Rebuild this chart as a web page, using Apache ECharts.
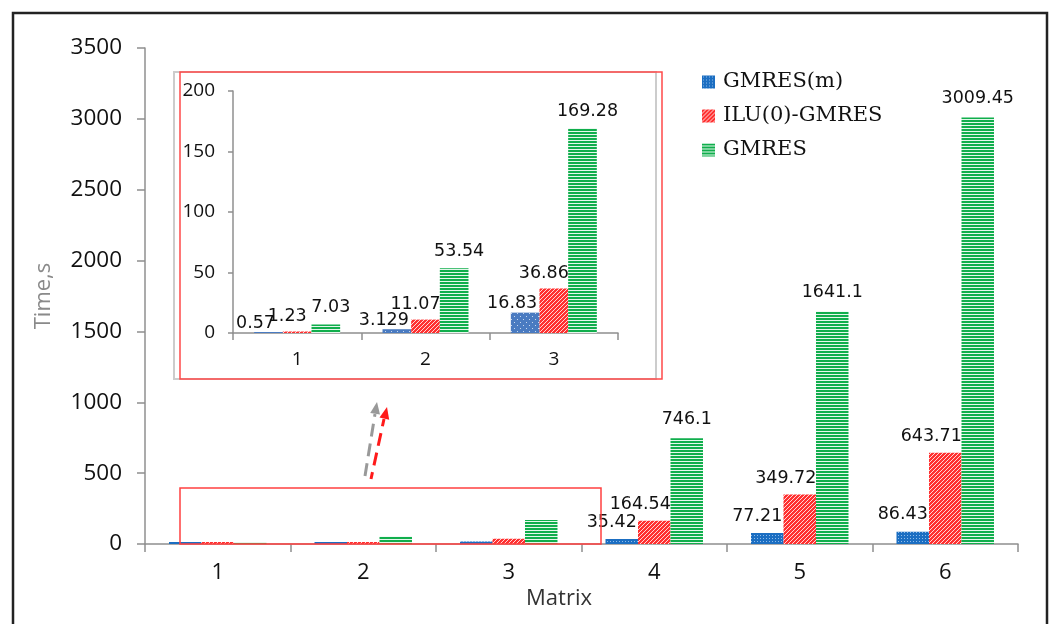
<!DOCTYPE html>
<html>
<head>
<meta charset="utf-8">
<script src="https://cdn.jsdelivr.net/npm/echarts@6/dist/echarts.min.js"></script>
<style>
html,body{margin:0;padding:0;background:#fff;}
#c{width:1054px;height:624px;}
</style>
</head>
<body>
<div id="c"></div>
<script>
// ---- data ----
const categories = ['1', '2', '3', '4', '5', '6'];
const insetCategories = ['1', '2', '3'];
const seriesNames = ['GMRES(m)', 'ILU(0)-GMRES', 'GMRES'];
const gmresM = [0.57, 3.129, 16.83, 35.42, 77.21, 86.43];
const iluGmres = [1.23, 11.07, 36.86, 164.54, 349.72, 643.71];
const gmres = [7.03, 53.54, 169.28, 746.1, 1641.1, 3009.45];
const mainTicks = { min: 0, max: 3500, interval: 500 };
const insetTicks = { min: 0, max: 200, interval: 50 };

// ---- patterns ----
function pattern(w, h, draw) {
  const c = document.createElement('canvas');
  c.width = w; c.height = h;
  const ctx = c.getContext('2d');
  draw(ctx);
  return { image: c, repeat: 'repeat' };
}
const bluePatMain = pattern(3, 3, ctx => {
  ctx.fillStyle = '#1b6ec2'; ctx.fillRect(0, 0, 3, 3);
  ctx.fillStyle = '#8fbbe8'; ctx.fillRect(1, 1, 1, 1);
});
const bluePatInset = pattern(6, 6, ctx => {
  ctx.fillStyle = '#4a7bc1'; ctx.fillRect(0, 0, 6, 6);
  ctx.fillStyle = '#c9d8ee'; ctx.fillRect(1, 1, 1, 1); ctx.fillRect(4, 4, 1, 1);
});
const redPat = pattern(4, 4, ctx => {
  for (let x = 0; x < 4; x++) for (let y = 0; y < 4; y++) {
    ctx.fillStyle = ((x + y) % 4 < 3) ? '#ff3030' : '#ffd6d6';
    ctx.fillRect(x, y, 1, 1);
  }
});
const greenPat = pattern(1, 3, ctx => {
  ctx.fillStyle = '#10ae4c'; ctx.fillRect(0, 0, 1, 2);
  ctx.fillStyle = '#e6f7ec'; ctx.fillRect(0, 2, 1, 1);
});

const mainColors = [bluePatMain, redPat, greenPat];
const insetColors = [bluePatInset, redPat, greenPat];
const mainOffsets = [[-10, 0], [-14, 0], [0, 0]];
const mainDistances = [8, 7, 10];
const insetOffsets = [[-13, 0], [-10, 0], [5, 0]];
const insetDistances = [0, 6, 8];
const valueSets = [gmresM, iluGmres, gmres];

const axisGray = '#8f8f8f';
const labelFont = 'DejaVu Sans';
const tickFont = 'Open Sans';
const plain = v => String(v);

const series = [];
valueSets.forEach((vals, i) => {
  series.push({
    name: seriesNames[i], type: 'bar', xAxisIndex: 0, yAxisIndex: 0,
    data: vals, barGap: '0%', barCategoryGap: '33%', barMinHeight: 2,
    itemStyle: { color: mainColors[i] },
    label: {
      show: true, position: 'top', distance: mainDistances[i], offset: mainOffsets[i],
      fontFamily: labelFont, fontSize: 17.5, color: '#111',
      formatter: p => p.dataIndex < 3 ? '' : String(p.value)
    }
  });
});
valueSets.forEach((vals, i) => {
  series.push({
    name: seriesNames[i], type: 'bar', xAxisIndex: 1, yAxisIndex: 1,
    data: vals.slice(0, 3), barGap: '0%', barCategoryGap: '33%', barMinHeight: 1,
    itemStyle: { color: insetColors[i] },
    label: {
      show: true, position: 'top', distance: insetDistances[i], offset: insetOffsets[i],
      fontFamily: labelFont, fontSize: 17.5, color: '#111',
      formatter: p => String(p.value)
    }
  });
});

const chart = echarts.init(document.getElementById('c'), null, { renderer: 'canvas' });
chart.setOption({
  animation: false,
  backgroundColor: '#ffffff',
  legend: {
    data: seriesNames, orient: 'vertical', left: 697, top: 65,
    itemWidth: 13, itemHeight: 13, itemGap: 10, icon: 'rect',
    textStyle: { fontFamily: 'DejaVu Serif', fontSize: 21, color: '#111', lineHeight: 24, padding: [0, 0, 0, 3] }
  },
  grid: [
    { left: 145, right: 36, top: 48, bottom: 80 },
    { left: 233, right: 436, top: 91, bottom: 291 }
  ],
  xAxis: [
    {
      type: 'category', gridIndex: 0, data: categories,
      axisLine: { lineStyle: { color: axisGray, width: 1.5 } },
      axisTick: { show: true, length: 8, lineStyle: { color: axisGray, width: 1.5 } },
      axisLabel: { fontFamily: tickFont, fontSize: 22, color: '#111', margin: 18 }
    },
    {
      type: 'category', gridIndex: 1, data: insetCategories,
      axisLine: { lineStyle: { color: axisGray, width: 1.5 } },
      axisTick: { show: true, length: 7, lineStyle: { color: axisGray, width: 1.5 } },
      axisLabel: { fontFamily: tickFont, fontSize: 19, color: '#111', margin: 17 }
    }
  ],
  yAxis: [
    {
      type: 'value', gridIndex: 0, min: mainTicks.min, max: mainTicks.max, interval: mainTicks.interval,
      name: 'Time,s', nameLocation: 'middle', nameGap: 90,
      nameTextStyle: { fontFamily: tickFont, fontSize: 22, color: '#8a8a8a' },
      axisLine: { show: true, lineStyle: { color: axisGray, width: 1.5 } },
      axisTick: { show: true, length: 8, lineStyle: { color: axisGray, width: 1.5 } },
      splitLine: { show: false },
      axisLabel: { fontFamily: tickFont, fontSize: 22.5, color: '#111', margin: 23, formatter: plain }
    },
    {
      type: 'value', gridIndex: 1, min: insetTicks.min, max: insetTicks.max, interval: insetTicks.interval,
      axisLine: { show: true, lineStyle: { color: axisGray, width: 1.5 } },
      axisTick: { show: true, length: 5, lineStyle: { color: axisGray, width: 1.5 } },
      splitLine: { show: false },
      axisLabel: { fontFamily: tickFont, fontSize: 19, color: '#111', margin: 18, formatter: plain }
    }
  ],
  series: series,
  graphic: [
    { type: 'rect', z: 100, shape: { x: 13, y: 13, width: 1034, height: 640 }, style: { fill: 'none', stroke: '#222', lineWidth: 2.5 } },
    { type: 'rect', z: 1, shape: { x: 174, y: 72, width: 482, height: 307 }, style: { fill: 'none', stroke: '#cccccc', lineWidth: 2 } },
    { type: 'rect', z: 1, shape: { x: 180, y: 72, width: 482, height: 307 }, style: { fill: 'none', stroke: '#ff4a4a', lineWidth: 1.5 } },
    { type: 'rect', z: 50, shape: { x: 180, y: 488, width: 421, height: 56 }, style: { fill: 'none', stroke: '#ff4040', lineWidth: 1.5 } },
    { type: 'line', z: 50, shape: { x1: 365, y1: 476, x2: 375, y2: 414 }, style: { stroke: '#999999', lineWidth: 3, lineDash: [13, 7] } },
    { type: 'polygon', z: 50, shape: { points: [[377, 402], [380, 414.6], [370.2, 413]] }, style: { fill: '#999999' } },
    { type: 'line', z: 51, shape: { x1: 371, y1: 479, x2: 384, y2: 419 }, style: { stroke: '#ff1a1a', lineWidth: 3, lineDash: [13, 7], lineDashOffset: 6 } },
    { type: 'polygon', z: 51, shape: { points: [[387, 407], [389.2, 419.8], [379.5, 417.6]] }, style: { fill: '#ff1a1a' } },
    { type: 'text', z: 50, style: { text: 'Matrix', x: 559, y: 599, textAlign: 'center', textVerticalAlign: 'middle', font: '22px "Open Sans"', fill: '#333333' } }
  ]
});
</script>
</body>
</html>
